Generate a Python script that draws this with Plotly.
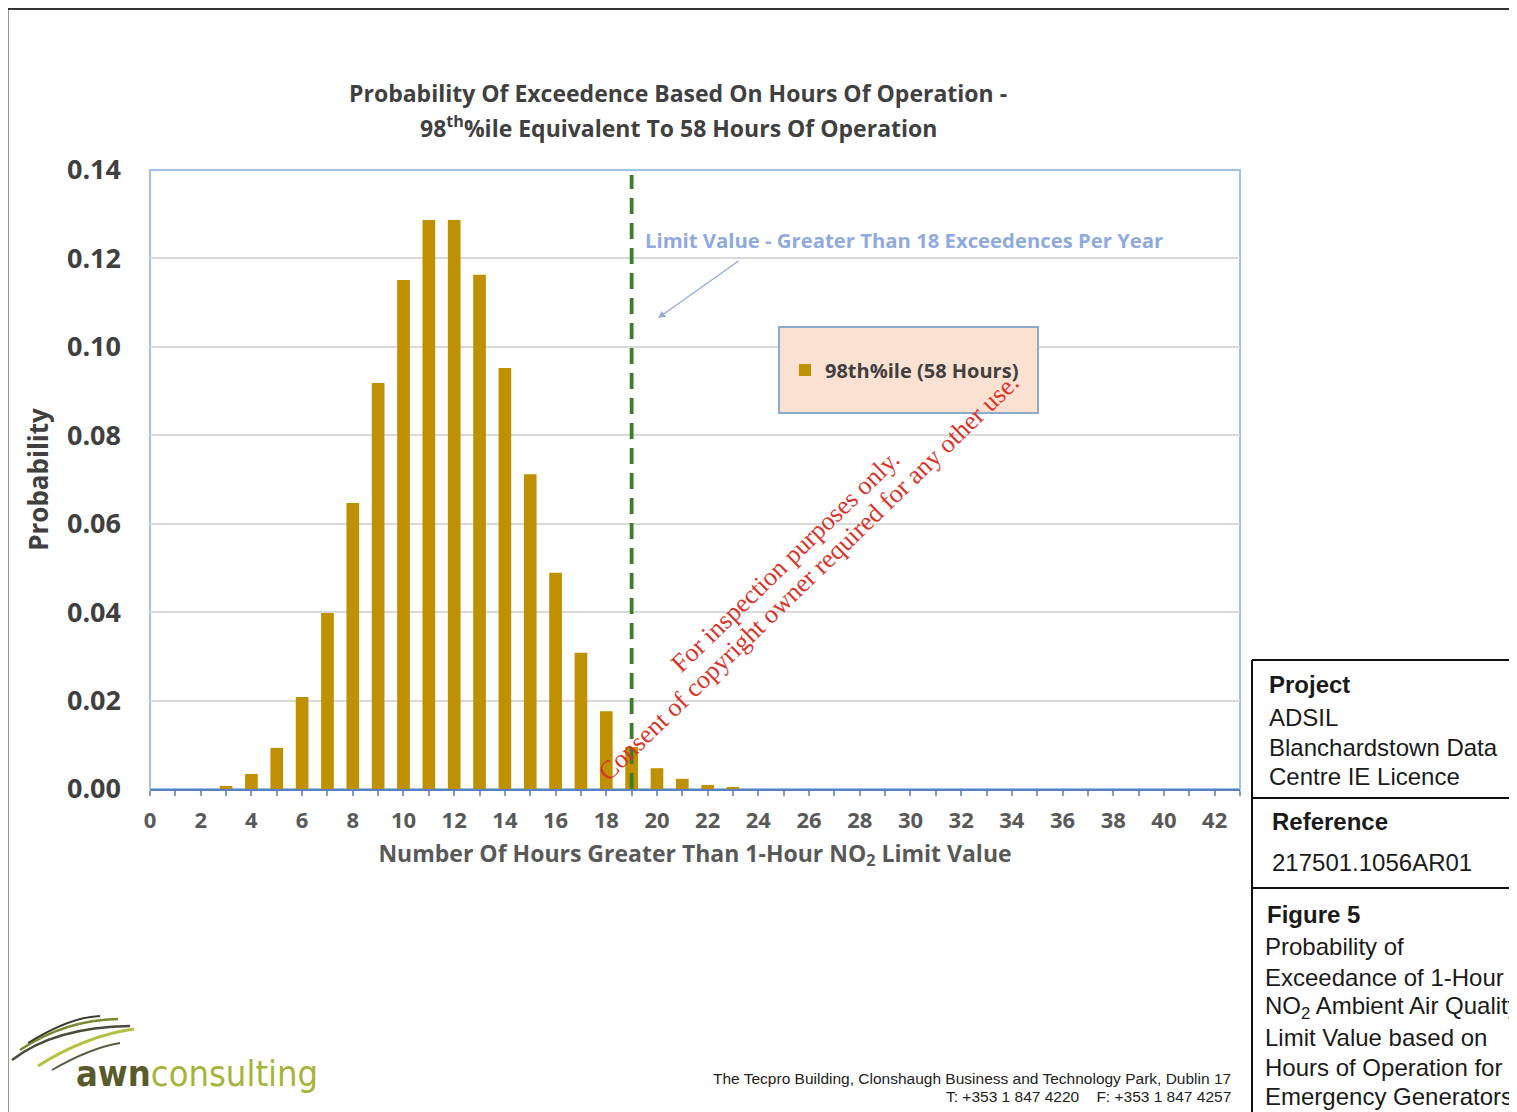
import plotly.graph_objects as go

# ---------------- data ----------------
hours = list(range(0, 24))
probability = [0.0, 0.0, 0.0, 0.0007, 0.0034, 0.0093, 0.0208, 0.0398, 0.0647, 0.0918,
               0.1151, 0.1287, 0.1287, 0.1163, 0.0952, 0.0712, 0.0489, 0.0308, 0.0176,
               0.0095, 0.0047, 0.0023, 0.0009, 0.0003]
series_name = "98th%ile (58 Hours)"
limit_hours = 19
x_tickvals = list(range(0, 43, 2))
y_tickvals = [0.0, 0.02, 0.04, 0.06, 0.08, 0.10, 0.12, 0.14]

# page body margin of the browser (8px) is compensated
OFF = 8
W, H = 1517 - OFF, 1112 - OFF
L, R, T, B = 150, 1240, 170, 789   # plot area in reference pixels


def px(x):
    return (x - L) / (R - L)


def py(y):
    return (B - y) / (B - T)


FONT = "'Open Sans', Lato, sans-serif"
ARIAL = "'Liberation Sans', Arial, sans-serif"

fig = go.Figure()
fig.add_trace(go.Bar(x=hours, y=probability, name="<b>" + series_name + "</b>",
                     marker=dict(color="#bf9000", line=dict(width=0)), width=0.5,
                     showlegend=True))

shapes = []
shapes.append(dict(type="rect", xref="paper", yref="paper", x0=0, x1=1, y0=0, y1=1,
                   line=dict(color="#9dc3e6", width=2), layer="below"))
shapes.append(dict(type="line", xref="x", yref="paper", x0=limit_hours, x1=limit_hours,
                   y0=0, y1=py(175), line=dict(color="#3b7d2a", width=3.8, dash="16px,9px")))
shapes.append(dict(type="rect", xref="paper", yref="paper", x0=px(779), x1=px(1038),
                   y0=py(413), y1=py(327), fillcolor="#fbe1d2",
                   line=dict(color="#8eaacb", width=2), layer="above"))
# page border
shapes.append(dict(type="line", xref="paper", yref="paper", x0=px(7), x1=px(1517),
                   y0=py(9), y1=py(9), line=dict(color="#333", width=2)))
shapes.append(dict(type="line", xref="paper", yref="paper", x0=px(7.5), x1=px(7.5),
                   y0=py(8), y1=py(1112), line=dict(color="#333", width=2)))
# right info table
for yy in (660, 798, 888):
    shapes.append(dict(type="line", xref="paper", yref="paper", x0=px(1252), x1=px(1517),
                       y0=py(yy), y1=py(yy), line=dict(color="#111", width=2)))
shapes.append(dict(type="line", xref="paper", yref="paper", x0=px(1252), x1=px(1252),
                   y0=py(660), y1=py(1112), line=dict(color="#111", width=2)))

# logo swooshes
swooshes = [
    ((12, 1060), (55, 1027), (130, 1026), "#4a4a3a", 2.5),
    ((20, 1050), (65, 1020), (118, 1019), "#7a8a30", 2.5),
    ((28, 1043), (70, 1017), (100, 1016), "#3d3d30", 2),
    ((38, 1066), (85, 1036), (134, 1029), "#b4c040", 3),
    ((52, 1070), (90, 1048), (120, 1043), "#5a5a40", 2),
]
for (x0, y0), (cx, cy), (x1, y1), col, wdt in swooshes:
    path = f"M {px(x0)},{py(y0)} Q {px(cx)},{py(cy)} {px(x1)},{py(y1)}"
    shapes.append(dict(type="path", xref="paper", yref="paper", path=path,
                       line=dict(color=col, width=wdt)))


def text(x, y, s, size, color, family=FONT, xanchor="center", **kw):
    return dict(xref="paper", yref="paper", x=px(x), y=py(y), xanchor=xanchor,
                yanchor="middle", showarrow=False, text=s,
                font=dict(family=family, size=size, color=color), **kw)


ann = []
ann.append(text(678, 93, "<b>Probability Of Exceedence Based On Hours Of Operation -</b>", 23, "#404040"))
ann.append(text(678, 127, "<b>98<sup>th</sup>%ile Equivalent To 58 Hours Of Operation</b>", 23, "#404040"))
ann.append(text(643, 240, "<b>Limit Value - Greater Than 18 Exceedences Per Year</b>", 20.3,
                "#8faadc", xanchor="left"))
ann.append(dict(xref="paper", yref="paper", x=px(658), y=py(318), ax=740 - 658, ay=260 - 318,
                showarrow=True, arrowhead=2, arrowsize=1.2, arrowwidth=1.2,
                arrowcolor="#8eaadb", text=""))
# watermark
ann.append(text(785, 561, "For inspection purposes only.", 26, "#d7342b",
                family="'Liberation Serif', serif", textangle=-44))
ann.append(text(808, 577, "Consent of copyright owner required for any other use.", 26, "#d7342b",
                family="'Liberation Serif', serif", textangle=-44))
# right table texts
table_lines = [
    (1267, 684, "<b>Project</b>"),
    (1267, 717, "ADSIL"),
    (1267, 747, "Blanchardstown Data"),
    (1267, 776, "Centre IE Licence"),
    (1270, 822, "<b>Reference</b>"),
    (1270, 862, "217501.1056AR01"),
    (1265, 914, "<b>Figure 5</b>"),
    (1263, 947, "Probability of"),
    (1263, 977, "Exceedance of 1-Hour"),
    (1263, 1007, "NO<sub>2</sub> Ambient Air Quality"),
    (1263, 1037, "Limit Value based on"),
    (1263, 1067, "Hours of Operation for"),
    (1263, 1096, "Emergency Generators"),
]
for xx, yy, txt in table_lines:
    ann.append(text(xx, yy, txt, 24, "#1a1a1a", family=ARIAL, xanchor="left"))
# footer
ann.append(text(1233, 1078, "The Tecpro Building, Clonshaugh Business and Technology Park, Dublin 17",
                15.5, "#222", family=ARIAL, xanchor="right"))
ann.append(text(1233, 1096, "T: +353 1 847 4220    F: +353 1 847 4257",
                15.5, "#222", family=ARIAL, xanchor="right"))
# logo text
ann.append(text(74, 1073,
                "<b><span style='color:#5b5a2c'>awn</span></b><span style='color:#a7b43c'>consulting</span>",
                36, "#a7b43c", family="'DejaVu Sans Condensed', 'Liberation Sans', sans-serif",
                xanchor="left"))

fig.update_layout(
    width=W, height=H,
    margin=dict(l=L - OFF, r=W - (R - OFF), t=T - OFF, b=H - (B - OFF)),
    paper_bgcolor="white", plot_bgcolor="white",
    showlegend=True,
    legend=dict(x=px(785), y=py(370), xanchor="left", yanchor="middle",
                bgcolor="rgba(0,0,0,0)", borderwidth=0,
                font=dict(family=FONT, size=20, color="#404040"), itemwidth=30),
    shapes=shapes, annotations=ann,
)

fig.update_xaxes(
    range=[0, 43], tickvals=x_tickvals, ticktext=[str(v) for v in x_tickvals],
    showgrid=False, zeroline=False,
    showline=True, linecolor="#5b7fc4", linewidth=2,
    ticks="outside", ticklen=5, tickcolor="#7f9ac4", tickwidth=1.5,
    minor=dict(dtick=1, tick0=0, ticks="outside", ticklen=5, tickcolor="#7f9ac4", tickwidth=1.5),
    tickfont=dict(family=FONT, size=22, color="#595959", weight="bold"),
    ticklabelstandoff=6,
    title=dict(text="<b>Number Of Hours Greater Than 1-Hour NO<sub>2</sub> Limit Value</b>",
               font=dict(family=FONT, size=23, color="#595959"), standoff=12),
)
fig.update_yaxes(
    range=[0, 0.14], tickvals=y_tickvals, tickformat=".2f",
    showgrid=True, gridcolor="#d9d9d9", gridwidth=1.5, zeroline=False,
    showline=False, ticks="",
    tickfont=dict(family=FONT, size=27, color="#404040", weight="bold"),
    ticklabelstandoff=28,
    title=dict(text="<b>Probability</b>", font=dict(family=FONT, size=26, color="#404040"),
               standoff=10),
)

fig.write_html("out.html")
